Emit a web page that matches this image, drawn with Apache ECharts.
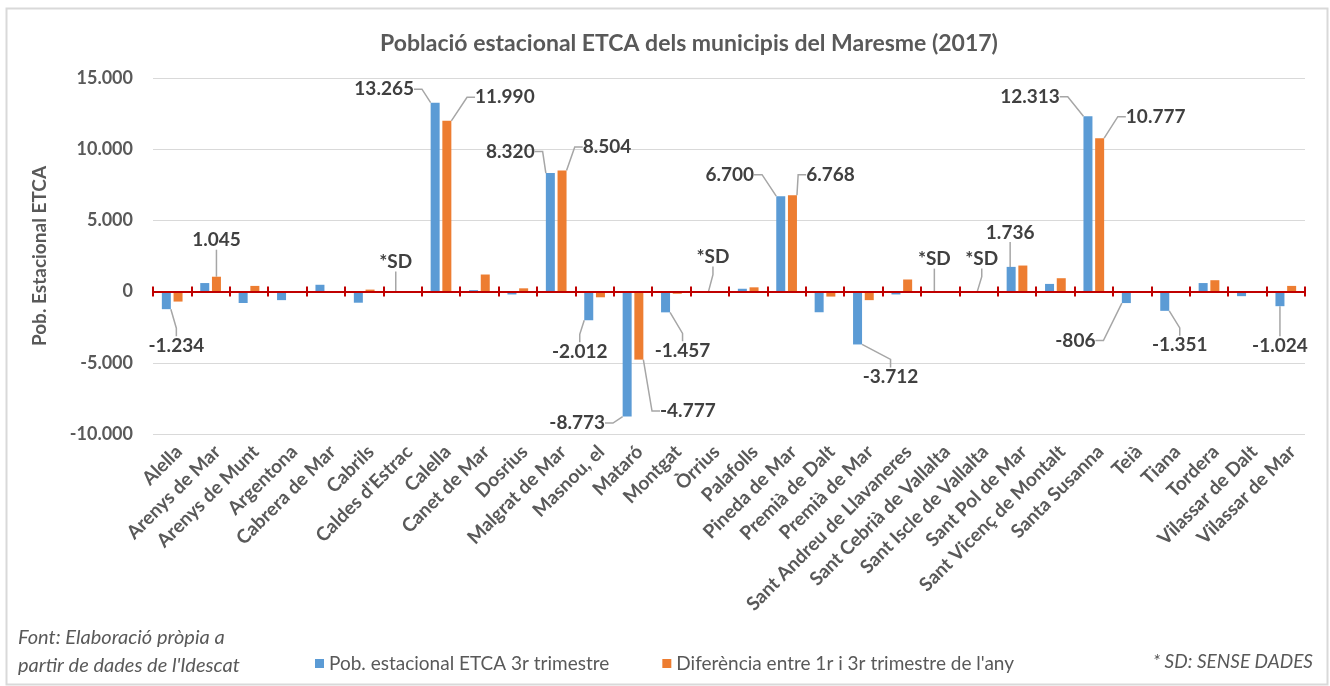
<!DOCTYPE html>
<html>
<head>
<meta charset="utf-8">
<title>Població estacional ETCA dels municipis del Maresme (2017)</title>
<script src="https://cdn.jsdelivr.net/npm/echarts@6/dist/echarts.min.js"></script>
<style>
    html, body { margin: 0; padding: 0; background: #fff; }
    #chart-container { width: 1330px; height: 686px; }
</style>
</head>
<body>
<div id="chart-container"></div>
<script>
(function(window, echarts){
    'use strict';

    // municipis del Maresme
    var municipis = [
        'Alella', 'Arenys de Mar', 'Arenys de Munt', 'Argentona', 'Cabrera de Mar',
        'Cabrils', "Caldes d'Estrac", 'Calella', 'Canet de Mar', 'Dosrius',
        'Malgrat de Mar', 'Masnou, el', 'Mataró', 'Montgat', 'Òrrius',
        'Palafolls', 'Pineda de Mar', 'Premià de Dalt', 'Premià de Mar', 'Sant Andreu de Llavaneres',
        'Sant Cebrià de Vallalta', 'Sant Iscle de Vallalta', 'Sant Pol de Mar', 'Sant Vicenç de Montalt', 'Santa Susanna',
        'Teià', 'Tiana', 'Tordera', 'Vilassar de Dalt', 'Vilassar de Mar'
    ];

    // null = sense dades (*SD)
    var pobEstacional = [
        -1234, 600, -800, -600, 480,
        -780, null, 13265, 100, -200,
        8320, -2012, -8773, -1457, null,
        200, 6700, -1450, -3712, -200,
        null, null, 1736, 540, 12313,
        -806, -1351, 600, -320, -1024
    ];

    var diferencia = [
        -700, 1045, 400, 0, 0,
        140, null, 11990, 1200, 230,
        8504, -400, -4777, -150, null,
        300, 6768, -350, -600, 850,
        null, null, 1830, 940, 10777,
        0, 0, 800, 0, 400
    ];

    var seriesNames = ['Pob. estacional ETCA 3r trimestre', "Diferència entre 1r i 3r trimestre de l'any"];
    var yMin = -10000, yMax = 15000, yInterval = 5000;

    // desplaçament de les etiquetes (px) respecte la posició per defecte
    var desplPob = {
        'Alella': [10, 22], "Caldes d'Estrac": [-1, -15], 'Calella': [-51, 1],
        'Malgrat de Mar': [-40, -7], 'Masnou, el': [-9, 17], 'Mataró': [-50, -8],
        'Montgat': [17, 24], 'Òrrius': [9, -20], 'Pineda de Mar': [-51, -7],
        'Premià de Mar': [33, 18], 'Sant Cebrià de Vallalta': [0, -18],
        'Sant Iscle de Vallalta': [9, -18], 'Sant Pol de Mar': [-1, -20],
        'Santa Susanna': [-58, -5], 'Teià': [-51, 23], 'Tiana': [15, 20],
        'Vilassar de Mar': [0, 25]
    };
    var desplDif = {
        'Arenys de Mar': [0, -22], 'Calella': [58, -9], 'Malgrat de Mar': [45, -9],
        'Mataró': [49, 37], 'Pineda de Mar': [38, -6], 'Santa Susanna': [56, -7]
    };

    var FONT = 'Lato, "Open Sans", sans-serif';
    var GREY = '#595959';

    var fmt = function(v) {
        var s = String(Math.abs(v)).replace(/\B(?=(\d{3})+(?!\d))/g, '.');
        return (v < 0 ? '-' : '') + s;
    };

    var buildData = function(values, despl) {
        return values.map(function(v, i) {
            var nom = municipis[i];
            if (!despl[nom]) {
                return { value: v };
            }
            var sd = v === null;
            return {
                value: sd ? 0 : v,
                label: {
                    show: true,
                    position: (sd || v >= 0) ? 'top' : 'bottom',
                    formatter: sd ? '*SD' : fmt(v)
                },
                labelLine: { show: true }
            };
        });
    };

    var layoutFor = function(despl) {
        return function(params) {
            var o = despl[municipis[params.dataIndex]];
            return o ? { dx: o[0], dy: o[1] } : {};
        };
    };

    var barSeries = function(name, values, despl, color) {
        return {
            name: name,
            type: 'bar',
            data: buildData(values, despl),
            barWidth: 9,
            barGap: '30%',
            itemStyle: { color: color },
            label: {
                show: false,
                distance: 5,
                fontFamily: FONT,
                fontSize: 19,
                fontWeight: 'bold',
                color: '#404040'
            },
            labelLine: {
                show: false,
                length2: 8,
                smooth: false,
                lineStyle: { color: '#a6a6a6', width: 1.5 }
            },
            labelLayout: layoutFor(despl),
            emphasis: { disabled: true }
        };
    };

    // eix vermell a l'alçada del zero, una marca a cada límit de municipi
    var zeroAxis = function(inside, showLine) {
        return {
            type: 'value',
            min: 0,
            max: municipis.length,
            interval: 1,
            position: 'bottom',
            z: 5,
            axisLine: { show: showLine, onZero: false, lineStyle: { color: '#c00000', width: 2 } },
            axisTick: { show: true, inside: inside, length: 5, lineStyle: { color: '#c00000', width: 2 } },
            axisLabel: { show: false },
            splitLine: { show: false }
        };
    };

    var chart = echarts.init(document.getElementById('chart-container'));

    var options = {
        animation: false,
        backgroundColor: '#fff',
        title: {
            text: 'Població estacional ETCA dels municipis del Maresme (2017)',
            left: 684,
            top: 27,
            textAlign: 'center',
            textStyle: { fontFamily: FONT, fontSize: 23, fontWeight: 'bold', color: GREY }
        },
        legend: {
            left: 310,
            top: 649,
            itemGap: 53,
            itemWidth: 9,
            itemHeight: 9,
            icon: 'rect',
            selectedMode: false,
            data: seriesNames,
            textStyle: { fontFamily: FONT, fontSize: 19, color: GREY }
        },
        grid: {
            left: 153,
            right: 25,
            top: 78,
            bottom: 252,
            containLabel: false,
            outerBoundsMode: 'none'
        },
        graphic: [
            {
                type: 'rect', left: 4, top: 6, silent: true,
                shape: { width: 1321, height: 676 },
                style: { fill: 'none', stroke: '#d9d9d9', lineWidth: 2 }
            },
            {
                type: 'text', left: 18, top: 624, silent: true,
                style: {
                    text: 'Font: Elaboració pròpia a\npartir de dades de l\'Idescat',
                    font: 'italic 20px ' + FONT, fill: GREY, lineHeight: 28
                }
            },
            {
                type: 'text', right: 17, top: 652, silent: true,
                style: { text: '* SD: SENSE DADES', font: 'italic 19px ' + FONT, fill: GREY }
            }
        ],
        xAxis: [
            {
                type: 'category',
                data: municipis,
                position: 'bottom',
                axisLine: { show: false, onZero: false },
                axisTick: { show: false },
                axisLabel: {
                    interval: 0,
                    rotate: 45,
                    margin: 8,
                    verticalAlign: 'top',
                    fontFamily: FONT,
                    fontSize: 19,
                    fontWeight: 'bold',
                    color: GREY
                },
                splitLine: { show: false }
            },
            zeroAxis(false, true),
            zeroAxis(true, false)
        ],
        yAxis: {
            type: 'value',
            min: yMin,
            max: yMax,
            interval: yInterval,
            name: 'Pob. Estacional ETCA',
            nameLocation: 'middle',
            nameRotate: 90,
            nameGap: 104,
            nameTextStyle: { fontFamily: FONT, fontSize: 19, fontWeight: 'bold', color: GREY },
            axisLine: { show: false },
            axisTick: { show: false },
            axisLabel: {
                margin: 20,
                fontFamily: FONT,
                fontSize: 18,
                fontWeight: 'bold',
                color: GREY,
                formatter: fmt
            },
            splitLine: { lineStyle: { color: '#d9d9d9', width: 1 } }
        },
        series: [
            barSeries(seriesNames[0], pobEstacional, desplPob, '#5b9bd5'),
            barSeries(seriesNames[1], diferencia, desplDif, '#ed7d31')
        ]
    };

    chart.setOption(options);

    // puja els eixos vermells fins al zero de l'eix Y
    var yZero = chart.convertToPixel({ yAxisIndex: 0 }, 0);
    var yBase = chart.convertToPixel({ yAxisIndex: 0 }, yMin);
    var shift = yZero - yBase;
    chart.setOption({ xAxis: [{}, { offset: shift }, { offset: shift }] });

})(window, window.echarts);
</script>
</body>
</html>
